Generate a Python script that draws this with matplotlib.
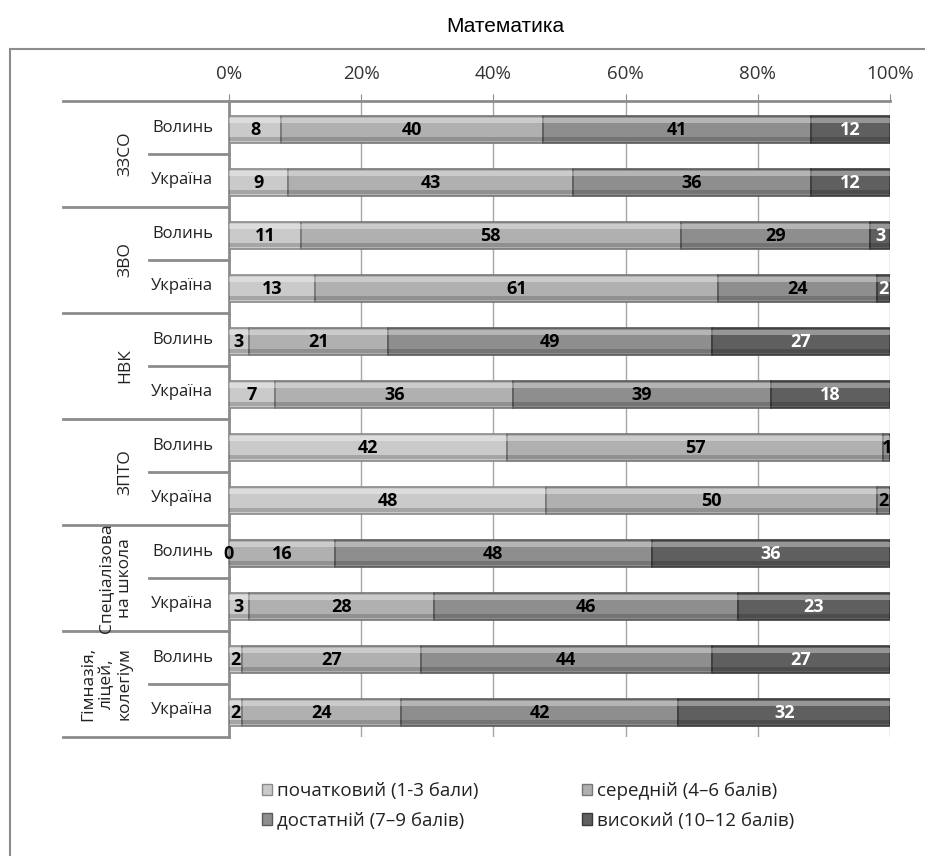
import numpy as np
import matplotlib.pyplot as plt
from matplotlib.patches import Patch, Rectangle
from matplotlib.transforms import blended_transform_factory

plt.rcParams['font.family'] = ['Open Sans', 'DejaVu Sans']

# groups (top to bottom) and regions inside each group
groups = ['ЗЗСО', 'ЗВО', 'НВК', 'ЗПТО', 'Спеціалізова\nна школа', 'Гімназія,\nліцей,\nколегіум']
regions = ['Волинь', 'Україна']

levels = ['початковий (1-3 бали)', 'середній (4–6 балів)',
          'достатній (7–9 балів)', 'високий (10–12 балів)']

# one list per level, rows in order: group x region
pochatkovyi = [8, 9, 11, 13, 3, 7, 42, 48, 0, 3, 2, 2]
serednii = [40, 43, 58, 61, 21, 36, 57, 50, 16, 28, 27, 24]
dostatnii = [41, 36, 29, 24, 49, 39, 1, 2, 48, 46, 44, 42]
vysokyi = [12, 12, 3, 2, 27, 18, np.nan, np.nan, 36, 23, 27, 32]

colors = ['#cacaca', '#b0b0b0', '#8e8e8e', '#5f5f5f']
edge_colors = ['#8a8a8a', '#777777', '#5a5a5a', '#3a3a3a']
label_colors = ['black', 'black', 'black', 'white']

values = np.array([pochatkovyi, serednii, dostatnii, vysokyi], dtype=float)
shares = np.nan_to_num(values) / np.nansum(values, axis=0) * 100

fig = plt.figure(figsize=(9.25, 8.56), dpi=100)
ax = fig.add_axes([229 / 925, 1 - 737 / 856, 661 / 925, 636 / 856])

n_rows = values.shape[1]
y = np.arange(n_rows) + 0.04
left = np.zeros(n_rows)
bar_h = 0.5

for k in range(4):
    w = shares[k]
    ax.barh(y, w, left=left, height=bar_h, color=colors[k],
            edgecolor=edge_colors[k], linewidth=1.2, zorder=3)
    # bevel: light strip on top, dark strip at the bottom
    ax.barh(y - bar_h * 0.33, w, left=left, height=bar_h * 0.18,
            color='white', alpha=0.35, linewidth=0, zorder=4)
    ax.barh(y + bar_h * 0.36, w, left=left, height=bar_h * 0.14,
            color='black', alpha=0.18, linewidth=0, zorder=4)
    for i in range(n_rows):
        if np.isnan(values[k, i]):
            continue
        ax.text(left[i] + w[i] / 2, y[i], f'{int(values[k, i])}',
                ha='center', va='center', fontsize=13, fontweight='bold',
                color=label_colors[k], zorder=5)
    left = left + w

ax.set_xlim(0, 100)
ax.set_ylim(n_rows - 0.5, -0.5)
ax.set_xticks(np.arange(0, 101, 20))
ax.set_xticklabels([f'{t}%' for t in range(0, 101, 20)])
ax.xaxis.tick_top()
ax.tick_params(axis='x', length=5, color='#8c8c8c', pad=8, labelsize=13.5,
               labelcolor='#333333')
ax.set_yticks([])
ax.grid(axis='x', color='#a6a6a6', linewidth=1, zorder=0)
for s in ['right', 'bottom']:
    ax.spines[s].set_visible(False)
ax.spines['top'].set_color('#8c8c8c')
ax.spines['top'].set_linewidth(2)
ax.spines['left'].set_color('#8c8c8c')
ax.spines['left'].set_linewidth(2)

# multi-level category axis
trans = blended_transform_factory(ax.transAxes, ax.transData)
x_group = (63 - 229) / 661
x_mid = (149 - 229) / 661
for g in range(len(groups) + 1):
    yy = g * 2 - 0.5
    ax.plot([x_group, 0], [yy, yy], transform=trans, color='#8c8c8c',
            linewidth=2, clip_on=False)
for g in range(len(groups)):
    yy = g * 2 + 0.5
    ax.plot([x_mid, 0], [yy, yy], transform=trans, color='#8c8c8c',
            linewidth=2, clip_on=False)
    ax.text((133 - 229) / 661, g * 2 + 0.5, groups[g], transform=trans,
            rotation=90, ha='right', va='center', multialignment='center',
            fontsize=12.5, color='#222222', linespacing=1.2)
    for r, reg in enumerate(regions):
        ax.text(-0.024, g * 2 + r, reg, transform=trans, ha='right',
                va='center', fontsize=12, color='#222222')

# title and outer frame
fig.text(505 / 925, 1 - 27 / 856, 'Математика', ha='center', va='center',
         fontsize=15, family=['Liberation Sans', 'DejaVu Sans'])
fig.patches.append(Rectangle((10 / 925, -0.1), 1.2, 1.1 - 49 / 856,
                             transform=fig.transFigure, fill=False,
                             edgecolor='#8c8c8c', linewidth=1.5))

handles = [Patch(facecolor=colors[k], edgecolor=edge_colors[k]) for k in range(4)]
order = [0, 2, 1, 3]
fig.legend([handles[k] for k in order], [levels[k] for k in order],
           loc='center', bbox_to_anchor=(528 / 925, 1 - 806 / 856), ncol=2,
           frameon=False, fontsize=13.5, handlelength=0.55, handleheight=0.55,
           handletextpad=0.25, columnspacing=5.5, labelspacing=0.6,
           labelcolor='#222222')

fig.savefig('out.png', dpi=100)
